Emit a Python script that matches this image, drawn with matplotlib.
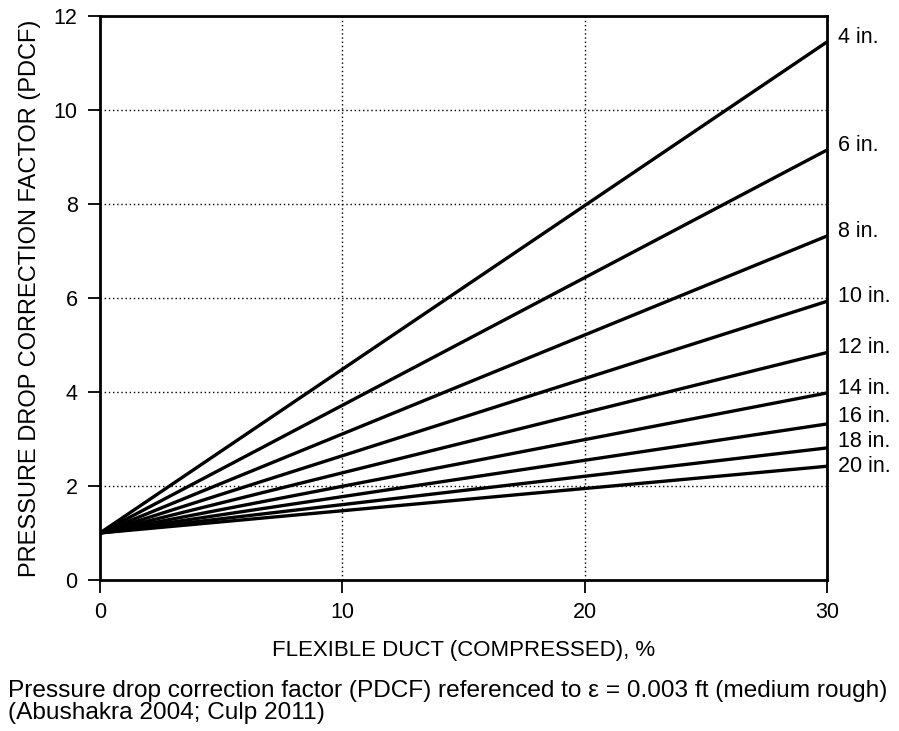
import matplotlib
matplotlib.use('Agg')
import matplotlib.pyplot as plt

plt.rcParams['font.family'] = ['Liberation Sans', 'DejaVu Sans']

# duct sizes and PDCF at 30 % compression (all lines start at 1.0 at 0 %)
sizes = ['4 in.', '6 in.', '8 in.', '10 in.', '12 in.', '14 in.', '16 in.', '18 in.', '20 in.']
pdcf_at_0 = [1.0, 1.0, 1.0, 1.0, 1.0, 1.0, 1.0, 1.0, 1.0]
pdcf_at_30 = [11.45, 9.15, 7.32, 5.93, 4.84, 3.98, 3.32, 2.81, 2.42]
compression = [0, 30]

fig = plt.figure(figsize=(8.99, 7.31), dpi=100)
ax = fig.add_axes([0.1112, 0.2066, 0.8087, 0.7714])

# small nudges so the crowded labels at the bottom don't collide
nudge = {'16 in.': 0.16, '18 in.': 0.13, '20 in.': 0.0}

for name, y0, y1 in zip(sizes, pdcf_at_0, pdcf_at_30):
    ax.plot(compression, [y0, y1], color='black', lw=2.4, solid_capstyle='butt', zorder=3)
    ax.text(30.45, y1 + nudge.get(name, 0.1), name, fontsize=15.5, va='center', ha='left')

ax.set_xlim(0, 30)
ax.set_ylim(0, 12)
ax.set_xticks([0, 10, 20, 30])
ax.set_yticks([0, 2, 4, 6, 8, 10, 12])
ax.tick_params(direction='out', length=9, width=1.3, labelsize=15.5, pad=7)

for x in [10, 20]:
    ax.axvline(x, color='black', lw=1, ls=(0, (1, 2)), zorder=1)
for y in [2, 4, 6, 8, 10]:
    ax.axhline(y, color='black', lw=1, ls=(0, (1, 2)), zorder=1)

for s in ax.spines.values():
    s.set_linewidth(2)

ax.set_xlabel('FLEXIBLE DUCT (COMPRESSED), %', fontsize=16, labelpad=12)
ax.set_ylabel('PRESSURE DROP CORRECTION FACTOR (PDCF)', fontsize=17, labelpad=9)

fig.text(0.009, 0.01,
         'Pressure drop correction factor (PDCF) referenced to \u03b5 = 0.003 ft (medium rough)\n'
         '(Abushakra 2004; Culp 2011)',
         fontsize=17.6, ha='left', va='bottom', linespacing=1.0)

fig.savefig('out.png', dpi=100)
